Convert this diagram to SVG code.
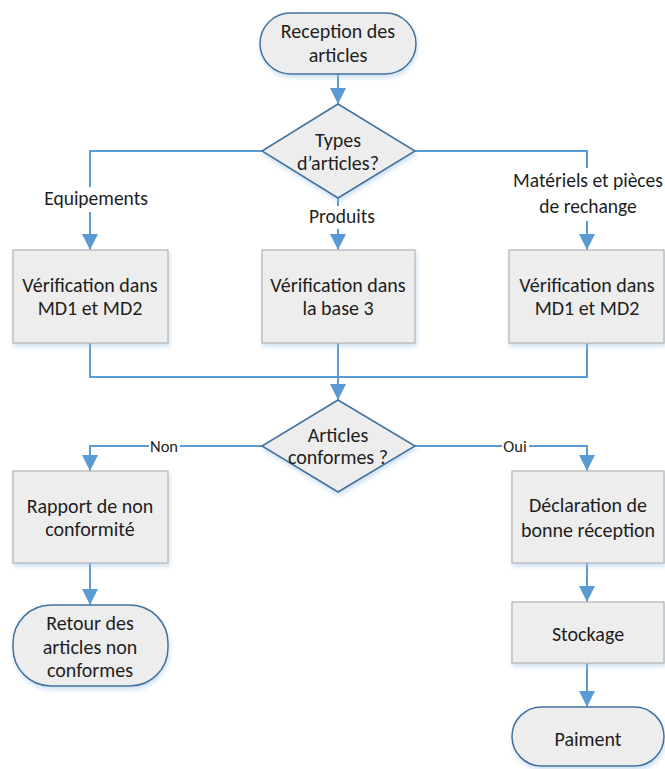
<svg xmlns="http://www.w3.org/2000/svg" width="665" height="769" viewBox="0 0 665 769">
  <style>
    .proc { fill: #ededed; stroke: #b4b4b4; stroke-width: 1.2; }
    .term { fill: #ededed; stroke: #41719c; stroke-width: 1.5; }
    .dec  { fill: #ededed; stroke: #41719c; stroke-width: 1.5; }
    .conn { fill: none; stroke: #5b9bd5; stroke-width: 2; }
    text  { font-family: "Carlito", "Liberation Sans", Arial, sans-serif; font-size: 20px; fill: #1e1e1e; text-anchor: middle; }
    .lbl  { font-size: 19.5px; }
    .sm   { font-size: 16.5px; }
    .bg   { fill: #ffffff; }
  </style>
  <defs>
    <marker id="arrow" markerUnits="userSpaceOnUse" markerWidth="16" markerHeight="16" viewBox="0 0 16 16" refX="16" refY="8" orient="auto">
      <path d="M0,0 L16,8 L0,16 Z" fill="#5b9bd5"/>
    </marker>
    <filter id="shadow" x="-10%" y="-10%" width="125%" height="130%">
      <feDropShadow dx="1" dy="3" stdDeviation="2" flood-color="#9dc3e6" flood-opacity="0.5"/>
    </filter>
  </defs>
  <rect width="665" height="769" fill="#ffffff"/>

  <!-- connectors -->
  <g id="connectors">
    <path class="conn" d="M338,74 V104" marker-end="url(#arrow)"/>
    <path class="conn" d="M262,151 H90 V250" marker-end="url(#arrow)"/>
    <path class="conn" d="M338,198 V250" marker-end="url(#arrow)"/>
    <path class="conn" d="M415,151 H587 V250" marker-end="url(#arrow)"/>
    <path class="conn" d="M90,343 V377 H587 V343"/>
    <path class="conn" d="M338,343 V400" marker-end="url(#arrow)"/>
    <path class="conn" d="M262,446 H90 V471" marker-end="url(#arrow)"/>
    <path class="conn" d="M415,446 H587 V471" marker-end="url(#arrow)"/>
    <path class="conn" d="M90,563 V605" marker-end="url(#arrow)"/>
    <path class="conn" d="M587,563 V602" marker-end="url(#arrow)"/>
    <path class="conn" d="M587,663 V707" marker-end="url(#arrow)"/>

    <!-- branch labels -->
    <rect class="bg" x="42" y="187" width="110" height="25"/>
    <text class="lbl" x="96" y="205">Equipements</text>
    <rect class="bg" x="306" y="206" width="72" height="23"/>
    <text class="lbl" x="342" y="223">Produits</text>
    <rect class="bg" x="505" y="168" width="160" height="53"/>
    <text class="lbl" x="588" y="187">Matériels et pièces</text>
    <text class="lbl" x="588" y="213">de rechange</text>
    <rect class="bg" x="149" y="438" width="31" height="18"/>
    <text class="sm" x="164" y="452">Non</text>
    <rect class="bg" x="502" y="438" width="27" height="18"/>
    <text class="sm" x="515" y="452">Oui</text>
  </g>

  <g id="reception" filter="url(#shadow)">
    <rect class="term" x="260" y="13" width="156" height="61" rx="30.5"/>
  </g>
  <text x="338" y="38">Reception des</text>
  <text x="338" y="62">articles</text>

  <g id="types" filter="url(#shadow)">
    <polygon class="dec" points="338,104 415,151 338,198 262,151"/>
  </g>
  <text x="338" y="147">Types</text>
  <text x="338" y="170">d’articles?</text>

  <g id="verif-equip" filter="url(#shadow)">
    <rect class="proc" x="13" y="250" width="155" height="93"/>
  </g>
  <text x="90" y="292">Vérification dans</text>
  <text x="90" y="315">MD1 et MD2</text>

  <g id="verif-produits" filter="url(#shadow)">
    <rect class="proc" x="262" y="250" width="153" height="93"/>
  </g>
  <text x="338" y="292">Vérification dans</text>
  <text x="338" y="315">la base 3</text>

  <g id="verif-materiels" filter="url(#shadow)">
    <rect class="proc" x="509" y="250" width="155" height="93"/>
  </g>
  <text x="587" y="292">Vérification dans</text>
  <text x="587" y="315">MD1 et MD2</text>

  <g id="conformes" filter="url(#shadow)">
    <polygon class="dec" points="338,400 415,446 338,492 262,446"/>
  </g>
  <text x="338" y="442">Articles</text>
  <text x="338" y="464">conformes ?</text>

  <g id="rapport" filter="url(#shadow)">
    <rect class="proc" x="13" y="471" width="155" height="92"/>
  </g>
  <text x="90" y="513">Rapport de non</text>
  <text x="90" y="536">conformité</text>

  <g id="retour" filter="url(#shadow)">
    <rect class="term" x="13" y="605" width="155" height="81" rx="38"/>
  </g>
  <text x="90" y="630">Retour des</text>
  <text x="90" y="654">articles non</text>
  <text x="90" y="677">conformes</text>

  <g id="declaration" filter="url(#shadow)">
    <rect class="proc" x="512" y="471" width="152" height="92"/>
  </g>
  <text x="588" y="512">Déclaration de</text>
  <text x="588" y="537">bonne réception</text>

  <g id="stockage" filter="url(#shadow)">
    <rect class="proc" x="512" y="602" width="152" height="61"/>
  </g>
  <text x="588" y="641">Stockage</text>

  <g id="paiment" filter="url(#shadow)">
    <rect class="term" x="512" y="707" width="152" height="59" rx="29.5"/>
  </g>
  <text x="588" y="746">Paiment</text>
</svg>
